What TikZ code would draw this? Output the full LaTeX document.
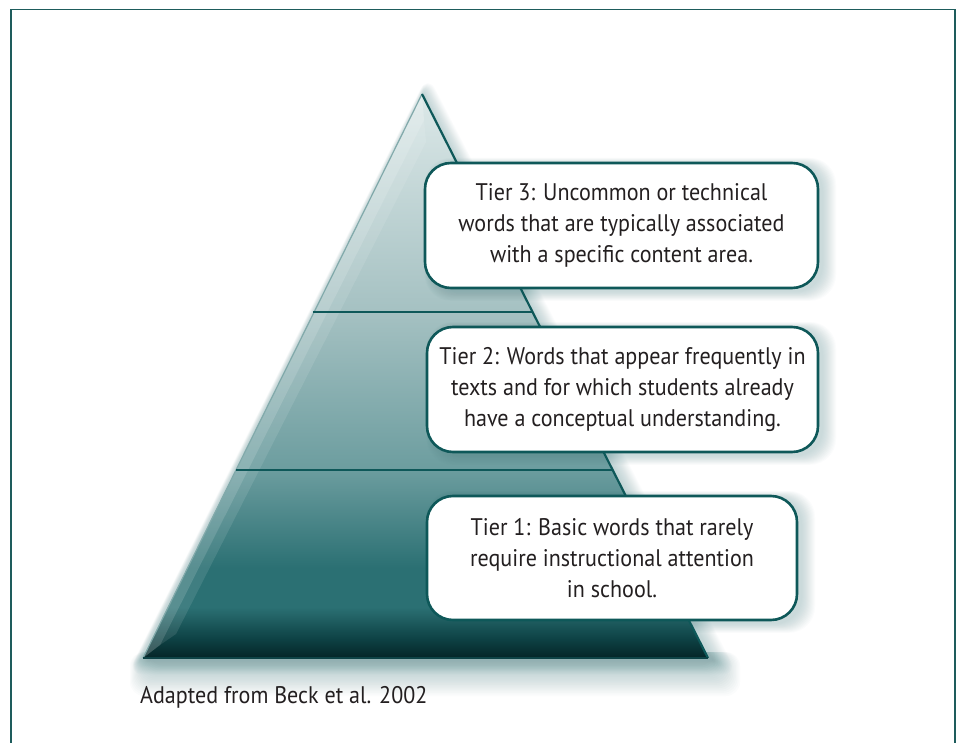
\documentclass[tikz,border=0pt]{standalone}
\usepackage{fontspec}
\setmainfont[FakeStretch=0.92]{PT Sans}
\definecolor{framec}{HTML}{1E5C5C}
\definecolor{boxc}{HTML}{0E5859}
\definecolor{txt}{HTML}{231F20}
\definecolor{glow}{HTML}{3F7F82}
\definecolor{c0}{HTML}{052527}
\definecolor{c1}{HTML}{0E4346}
\definecolor{c2}{HTML}{2B7073}
\definecolor{c3}{HTML}{6C9D9F}
\definecolor{c4}{HTML}{A5C1C2}
\definecolor{c5}{HTML}{DCE8E8}
\pgfdeclareverticalshading{pyr}{100bp}{color(0bp)=(c0); color(25bp)=(c0); color(26.8bp)=(c1); color(29.5bp)=(c2); color(33bp)=(c2); color(41.7bp)=(c3); color(55.7bp)=(c4); color(75bp)=(c5); color(100bp)=(c5)}
\tikzset{
  tierbox/.style={draw=boxc, line width=2.6pt, fill=white, rounded corners=26pt,
    align=center, inner sep=0pt, font=\fontsize{24}{31}\selectfont, text=txt},
  divider/.style={boxc, line width=2.4pt},
  glowlayer/.style={fill=glow, fill opacity=0.02, draw=none},
}
\begin{document}
\begin{tikzpicture}[x=1pt,y=-1pt]
\useasboundingbox (0,0) rectangle (960,743);
\fill[white] (0,0) rectangle (960,743);
% frame
\coordinate (fbl) at (11,745);
\coordinate (ftl) at (11,9.5);
\coordinate (ftr) at (955,9.5);
\coordinate (fbr) at (955,745);
\draw[framec, line width=1.6pt] (fbl) -- (ftl) -- (ftr) -- (fbr);
% pyramid
\coordinate (apex) at (422,94);
\coordinate (bl) at (143,658);
\coordinate (br) at (708,658);
% soft glow around the pyramid (stacked transparent layers)
\foreach \k in {1,...,16}{
  \fill[glowlayer, rounded corners=\k pt] (423+0.3*\k,94-1.2*\k) -- (140-0.8*\k,660+0.9*\k) -- (712+1.6*\k,660+0.9*\k) -- cycle;
}
\foreach \k in {1,...,20}{
  \fill[glowlayer, rounded corners=14pt] (150-\k,652) rectangle (712+1.4*\k,664+1.6*\k);
}
\shade[shading=pyr] (apex) -- (bl) -- (br) -- cycle;
% left bevel highlight
\fill[white, opacity=0.22] (apex) -- (bl) -- (160,645) -- (424,120) -- cycle;
\fill[white, opacity=0.10] (424,120) -- (160,645) -- (176,634) -- (426,142) -- cycle;
\draw[c4!70!c2, line width=1.2pt] (apex) -- (bl);
\draw[boxc, line width=2.2pt] (apex) -- (br);
\draw[c1, line width=1.2pt] (bl) -- (br);
% dividers
\coordinate (d1l) at (313,312);
\coordinate (d1r) at (532,312);
\coordinate (d2l) at (236,470);
\coordinate (d2r) at (613,470);
\draw[divider] (d1l) -- (d1r);
\draw[divider] (d2l) -- (d2r);
% box glows
\foreach \xa/\ya/\xb/\yb in {425/163/818/288, 427/327/818/452, 427/496/797/620}{
  \foreach \k in {1,...,14}{
    \fill[glowlayer, rounded corners=26pt] (\xa+8-0.6*\k,\ya+2-0.5*\k) rectangle (\xb+4+\k,\yb+3+0.7*\k);
  }
}
% boxes
\node[tierbox, minimum width=393pt, minimum height=125pt] (t3) at (621.5,225.5)
  {Tier 3: Uncommon or technical\\words that are typically associated\\with a specific content area.};
\node[tierbox, minimum width=391pt, minimum height=125pt] (t2) at (622.5,389.5)
  {Tier 2: Words that appear frequently in\\texts and for which students already\\have a conceptual understanding.};
\node[tierbox, minimum width=370pt, minimum height=124pt] (t1) at (612,558)
  {Tier 1: Basic words that rarely\\require instructional attention\\in school.};
% caption
\node[anchor=west, inner sep=0pt, font=\fontsize{24}{26}\selectfont, text=txt] (cap) at (140,697) {Adapted from Beck et al. 2002};
\end{tikzpicture}
\end{document}
